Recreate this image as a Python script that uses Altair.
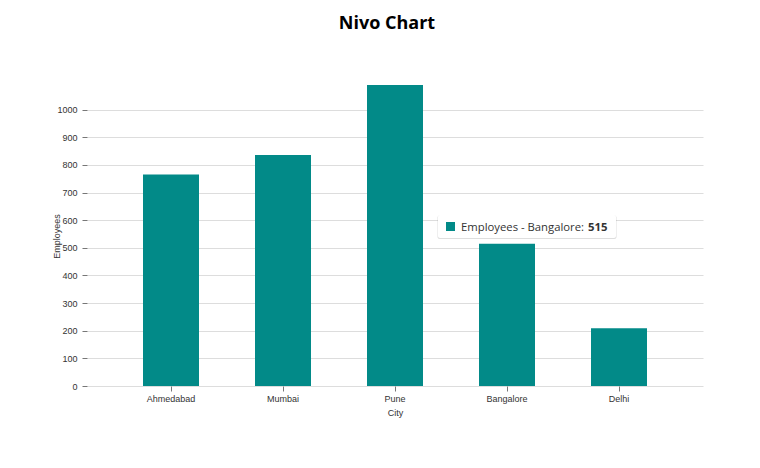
import altair as alt
import pandas as pd

cities = ["Ahmedabad", "Mumbai", "Pune", "Bangalore", "Delhi"]
employees = [765, 836, 1089, 515, 209]
y_ticks = [0, 100, 200, 300, 400, 500, 600, 700, 800, 900, 1000]
tooltip_label = "Employees - Bangalore:"
tooltip_value = "515"

BAR = "#028a88"
FONT = "Liberation Sans"

df = pd.DataFrame({"City": cities, "Employees": employees})
one = pd.DataFrame({"k": [0]})

bars = alt.Chart(df).mark_bar(color=BAR).encode(
    x=alt.X(
        "City:N",
        sort=cities,
        scale=alt.Scale(paddingInner=0.5, paddingOuter=0.5),
        axis=alt.Axis(
            title="City",
            labelAngle=0,
            tickSize=5,
            labelPadding=3,
            labelFontSize=9,
            labelFont=FONT,
            labelColor="#333333",
            tickColor="#777777",
            domain=False,
            grid=False,
            titleFont=FONT,
            titleFontSize=9,
            titleFontWeight="normal",
            titleColor="#333333",
            titleY=26,
            titleBaseline="middle",
        ),
    ),
    y=alt.Y(
        "Employees:Q",
        scale=alt.Scale(domain=[0, 1089], nice=False, zero=True),
        axis=alt.Axis(
            title="Employees",
            values=y_ticks,
            format="d",
            tickSize=5,
            labelPadding=5,
            labelFontSize=9,
            labelFont=FONT,
            labelColor="#333333",
            tickColor="#777777",
            domain=False,
            grid=True,
            gridColor="#dddddd",
            gridWidth=1,
            titleFont=FONT,
            titleFontSize=9,
            titleFontWeight="normal",
            titleColor="#333333",
            titleX=-31,
            titleY=151,
            titleBaseline="middle",
            titleAlign="center",
        ),
    ),
)

shadow = alt.Chart(one).mark_rect(color="#000000", opacity=0.13, cornerRadius=2).encode(
    x=alt.value(350.5), x2=alt.value(529.5), y=alt.value(130.5), y2=alt.value(154)
)
box = alt.Chart(one).mark_rect(color="#ffffff", cornerRadius=2).encode(
    x=alt.value(351), x2=alt.value(529), y=alt.value(130), y2=alt.value(153)
)
chip = alt.Chart(one).mark_rect(color=BAR).encode(
    x=alt.value(359), x2=alt.value(368), y=alt.value(137), y2=alt.value(146)
)
tip_text = alt.Chart(one).mark_text(
    text=tooltip_label, align="left", baseline="alphabetic", font="Open Sans",
    fontSize=11.3, color="#333333"
).encode(x=alt.value(374), y=alt.value(146))
tip_val = alt.Chart(one).mark_text(
    text=tooltip_value, align="left", baseline="alphabetic", font="Open Sans",
    fontSize=11.3, fontWeight="bold", color="#333333"
).encode(x=alt.value(501), y=alt.value(146))

chart = alt.layer(bars, shadow, box, chip, tip_text, tip_val).properties(
    width=616,
    height=301,
    autosize=alt.AutoSizeParams(type="none"),
    padding={"left": 87, "top": 85, "right": 57, "bottom": 82},
    title=alt.TitleParams(
        "Nivo Chart", font="Open Sans", fontSize=18, fontWeight="bold",
        color="#000000", anchor="middle", dx=-8, offset=52
    ),
).configure(background="#ffffff").configure_view(stroke=None, strokeWidth=0)

chart.save("out.html", embed_options={"renderer": "svg", "actions": False})
